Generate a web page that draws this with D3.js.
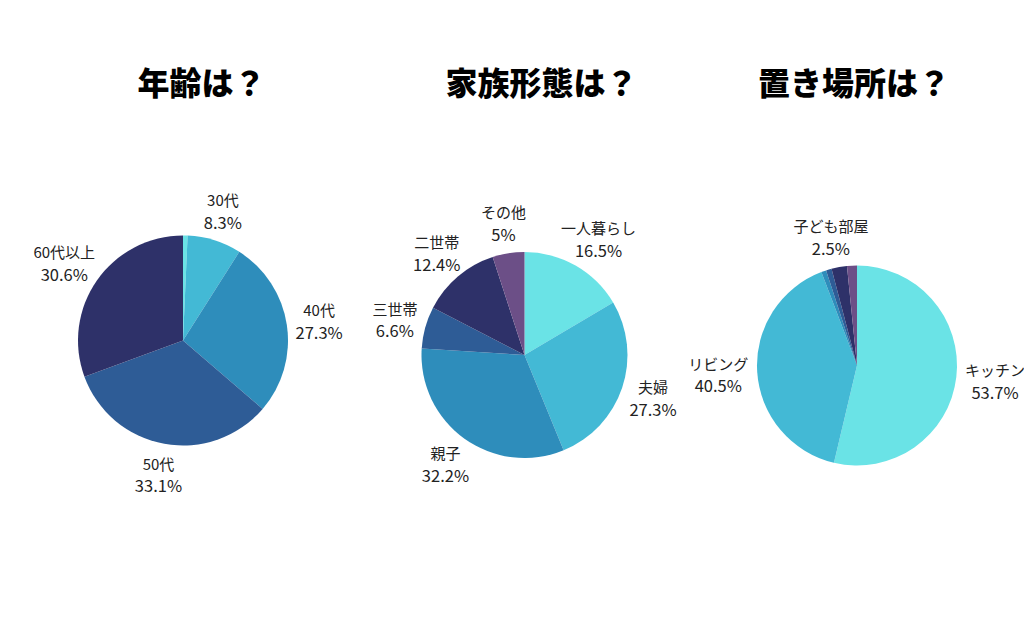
<!DOCTYPE html>
<html>
<head>
<meta charset="utf-8">
<script src="https://cdn.jsdelivr.net/npm/d3@7"></script>
<style>
  html, body { margin: 0; padding: 0; background: #ffffff; }
  svg { display: block; }
</style>
</head>
<body>
<svg id="chart" width="1024" height="640"></svg>
<script>
// ---- data ----
const titles = ["年齢は？", "家族形態は？", "置き場所は？"];

const ageCategories = ["20代", "30代", "40代", "50代", "60代以上"];
const ageValues = [0.7, 8.3, 27.3, 33.1, 30.6];

const familyCategories = ["一人暮らし", "夫婦", "親子", "三世帯", "二世帯", "その他"];
const familyValues = [16.5, 27.3, 32.2, 6.6, 12.4, 5];

const placeCategories = ["キッチン", "リビング", "", "", "子ども部屋", ""];
const placeValues = [53.7, 40.5, 0.8, 0.9, 2.5, 1.6];

const palette = ["#6ae3e6", "#43b9d5", "#2e8dbb", "#2e5c96", "#2e3169", "#6c4f87"];

// ---- layout ----
const W = 1024, H = 640;
const svg = d3.select("#chart");
svg.append("rect").attr("width", W).attr("height", H).attr("fill", "#ffffff");

const panels = [
  { cats: ageCategories,    vals: ageValues,    cx: 183,   cy: 340.5, r: 105, tx: 201.5 },
  { cats: familyCategories, vals: familyValues, cx: 524.5, cy: 355,   r: 103, tx: 541.5 },
  { cats: placeCategories,  vals: placeValues,  cx: 857,   cy: 365.5, r: 100, tx: 854 }
];

const color = d3.scaleOrdinal().domain(d3.range(palette.length)).range(palette);
const pie = d3.pie().sort(null).value(d => d.v);
const labelFont = "'Noto Sans CJK JP', 'Noto Sans', sans-serif";
const lineGap = 22;

panels.forEach((p, pi) => {
  // title
  svg.append("text")
    .attr("x", p.tx)
    .attr("y", 80.5)
    .attr("text-anchor", "middle")
    .attr("dominant-baseline", "central")
    .attr("font-family", labelFont)
    .attr("font-weight", 900)
    .attr("font-size", 32)
    .attr("fill", "#000000")
    .text(titles[pi]);

  const rows = p.cats.map((c, i) => ({ name: c, v: p.vals[i], i }));
  const arcs = pie(rows);
  const arc = d3.arc().innerRadius(0).outerRadius(p.r);
  const g = svg.append("g").attr("transform", `translate(${p.cx},${p.cy})`);

  g.selectAll("path.slice")
    .data(arcs)
    .join("path")
    .attr("class", "slice")
    .attr("d", arc)
    .attr("fill", d => color(d.data.i));

  // labels for slices >= 2% with a name
  arcs.filter(d => d.data.name && d.data.v >= 2).forEach(d => {
    const t = g.append("text")
      .attr("text-anchor", "middle")
      .attr("font-family", labelFont)
      .attr("fill", "#222222");
    const l1 = t.append("tspan").attr("x", 0).attr("font-size", 15)
      .attr("dominant-baseline", "central").text(d.data.name);
    const l2 = t.append("tspan").attr("x", 0).attr("font-size", 16.5)
      .attr("dominant-baseline", "central").text(d.data.v + "%");
    const w = Math.max(l1.node().getComputedTextLength(), l2.node().getComputedTextLength());
    const h = lineGap * 2;
    const a = (d.startAngle + d.endAngle) / 2;
    const s = Math.sin(a), c = Math.cos(a);
    const R = p.r + 9;
    const x = s * (R + w / 2);
    const y = -c * (R + h / 2);
    l1.attr("x", x).attr("y", y - lineGap / 2);
    l2.attr("x", x).attr("y", y + lineGap / 2);
  });
});
</script>
</body>
</html>
